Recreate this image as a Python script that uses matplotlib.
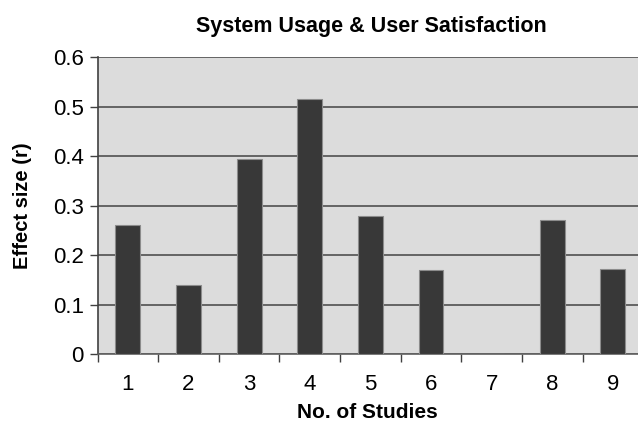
import matplotlib
matplotlib.use("Agg")
import matplotlib.pyplot as plt
import numpy as np

studies = ["1", "2", "3", "4", "5", "6", "7", "8", "9"]
effect_size = [0.26, 0.14, 0.394, 0.515, 0.28, 0.17, 0.0, 0.27, 0.172]
y_ticks = [0, 0.1, 0.2, 0.3, 0.4, 0.5, 0.6]
y_tick_labels = ["0", "0.1", "0.2", "0.3", "0.4", "0.5", "0.6"]

plt.rcParams['font.family'] = ['Liberation Sans', 'DejaVu Sans']

fig = plt.figure(figsize=(6.38, 4.21), dpi=100)
ax = fig.add_axes([0.153, 0.159, 0.847, 0.705])
ax.set_facecolor('#dcdcdc')

x = np.arange(len(studies))
ax.bar(x, effect_size, width=0.41, color='#383838', edgecolor='#8c8c8c',
       linewidth=0.8, zorder=3)

ax.set_xlim(-0.5, 8.415)
ax.set_ylim(0, 0.6)
ax.set_yticks(y_ticks)
ax.set_yticklabels(y_tick_labels)
ax.yaxis.grid(True, color='#505050', linewidth=1.2, zorder=1)

# category labels in the middle, tick marks on the boundaries
ax.set_xticks(x)
ax.set_xticklabels(studies)
ax.set_xticks(np.arange(-0.5, 8.5, 1.0), minor=True)
ax.tick_params(axis='x', which='major', length=0, pad=14, labelsize=16)
ax.tick_params(axis='x', which='minor', length=6, width=1.0, color='#404040')
ax.tick_params(axis='y', length=6, width=1.0, color='#404040', labelsize=16, pad=4)

for side in ['top', 'right']:
    ax.spines[side].set_visible(False)
ax.spines['left'].set_color('#404040')
ax.spines['left'].set_linewidth(1.2)
ax.spines['bottom'].set_color('#606060')
ax.spines['bottom'].set_linewidth(1.2)

fig.text(0.582, 0.938, "System Usage & User Satisfaction", ha='center',
         va='center', fontsize=15.5, fontweight='bold')
ax.set_xlabel("No. of Studies", fontsize=15, fontweight='bold', labelpad=6)
ax.set_ylabel("Effect size (r)", fontsize=14.5, fontweight='bold', labelpad=15)

fig.savefig("out.png", dpi=100)
